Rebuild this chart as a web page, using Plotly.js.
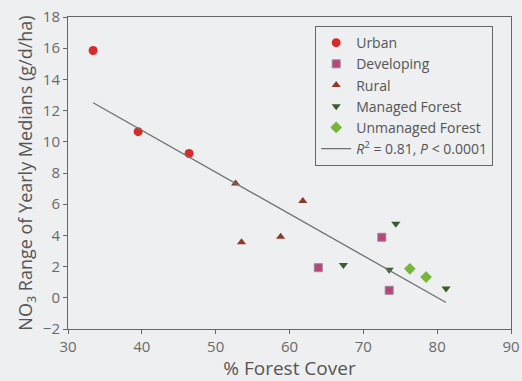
<!DOCTYPE html>
<html>
<head>
<meta charset="utf-8">
<script src="https://cdn.plot.ly/plotly-3.0.1.min.js"></script>
<style>html,body{margin:0;padding:0;background:#edeff0;}#chart{width:522px;height:381px;}</style>
</head>
<body>
<div id="chart"></div>
<script>
const urbanX = [33.4, 39.5, 46.4];
const urbanY = [15.85, 10.65, 9.25];
const developingX = [63.9, 72.5, 73.5];
const developingY = [1.93, 3.88, 0.48];
const ruralX = [52.7, 53.5, 58.8, 61.8];
const ruralY = [7.32, 3.56, 3.92, 6.21];
const managedX = [67.3, 73.5, 74.4, 81.2];
const managedY = [2.1, 1.8, 4.75, 0.6];
const unmanagedX = [76.3, 78.5];
const unmanagedY = [1.86, 1.33];
const fitX = [33.4, 81.2];
const fitY = [12.5, -0.3];
const fitLabel = "<i>R</i><sup>2</sup> = 0.81, <i>P</i> &lt; 0.0001";

const traces = [
  {x: urbanX, y: urbanY, name: "Urban", type: "scatter", mode: "markers",
   marker: {symbol: "circle", size: 9, color: "#d62b2b", line: {width: 0}}},
  {x: developingX, y: developingY, name: "Developing", type: "scatter", mode: "markers",
   marker: {symbol: "square", size: 8, color: "#b8457c", line: {width: 1, color: "#9a8a95"}}},
  {x: ruralX, y: ruralY, name: "Rural", type: "scatter", mode: "markers",
   marker: {symbol: "triangle-up", size: 8, color: "#8a3b2a", line: {width: 0}}},
  {x: managedX, y: managedY, name: "Managed Forest", type: "scatter", mode: "markers",
   marker: {symbol: "triangle-down", size: 8, color: "#3a5e2e", line: {width: 0}}},
  {x: unmanagedX, y: unmanagedY, name: "Unmanaged Forest", type: "scatter", mode: "markers",
   marker: {symbol: "diamond", size: 9, color: "#77b63a", line: {width: 0}}},
  {x: fitX, y: fitY, name: fitLabel, type: "scatter", mode: "lines",
   line: {color: "#6f706e", width: 1.3}}
];

const layout = {
  width: 522, height: 381,
  margin: {l: 68, r: 11, t: 17, b: 52},
  paper_bgcolor: "#edeff0",
  plot_bgcolor: "#edeff0",
  font: {family: "Open Sans, sans-serif", color: "#555"},
  showlegend: true,
  legend: {
    x: 0.558, y: 0.971, xanchor: "left", yanchor: "top",
    bgcolor: "rgba(0,0,0,0)", bordercolor: "#666", borderwidth: 1,
    font: {size: 14, color: "#555"}, tracegroupgap: 0, itemwidth: 30
  },
  xaxis: {
    range: [30, 90], tickvals: [30, 40, 50, 60, 70, 80, 90],
    showgrid: false, zeroline: false, showline: true, mirror: true,
    linecolor: "#666", linewidth: 1, ticks: "outside", ticklen: 4, tickcolor: "#666",
    tickfont: {size: 15, color: "#6a6a6a"},
    title: {text: "% Forest Cover", font: {size: 19, color: "#555"}, standoff: 4}
  },
  yaxis: {
    range: [-2, 18], tickvals: [-2, 0, 2, 4, 6, 8, 10, 12, 14, 16, 18],
    showgrid: false, zeroline: false, showline: true, mirror: true,
    linecolor: "#666", linewidth: 1, ticks: "outside", ticklen: 4, tickcolor: "#666",
    tickfont: {size: 15, color: "#6a6a6a"},
    title: {text: "NO<sub>3</sub> Range of Yearly Medians (g/d/ha)", font: {size: 18, color: "#555"}, standoff: 5}
  }
};

Plotly.newPlot("chart", traces, layout, {displayModeBar: false, staticPlot: true});
</script>
</body>
</html>
